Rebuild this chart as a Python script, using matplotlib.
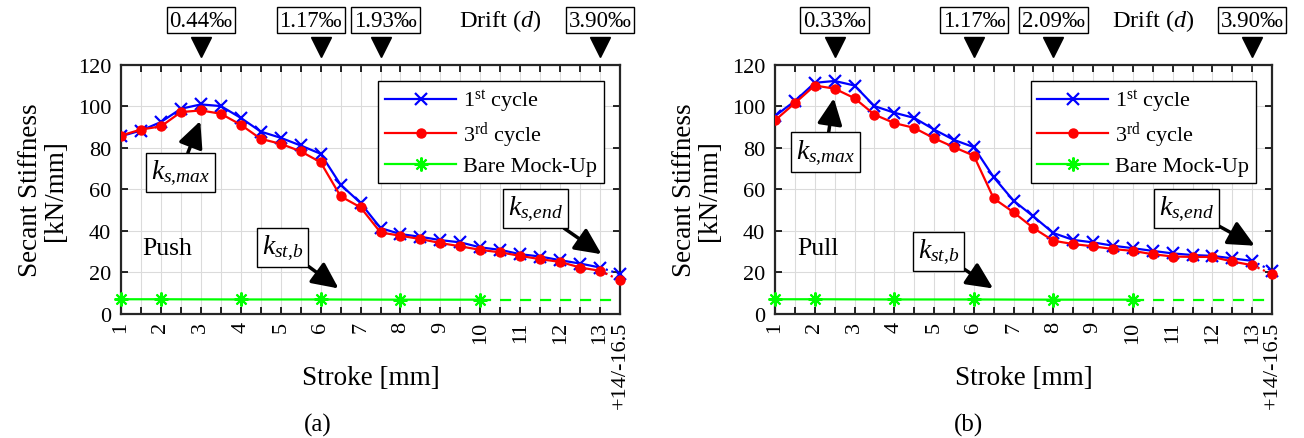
import numpy as np
import matplotlib
matplotlib.use('Agg')
import matplotlib.pyplot as plt
from matplotlib.transforms import blended_transform_factory

plt.rcParams['font.family'] = ['Liberation Serif', 'DejaVu Serif']
plt.rcParams['mathtext.fontset'] = 'custom'
plt.rcParams['mathtext.rm'] = 'Liberation Serif'
plt.rcParams['mathtext.it'] = 'Liberation Serif:italic'
plt.rcParams['mathtext.bf'] = 'Liberation Serif:bold'

# ---------------- data ----------------
stroke = [1, 1.5, 2, 2.5, 3, 3.5, 4, 4.5, 5, 5.5, 6, 6.5, 7, 7.5, 8, 8.5,
          9, 9.5, 10, 10.5, 11, 11.5, 12, 12.5, 13]
xtick_strokes = [1, 2, 3, 4, 5, 6, 7, 8, 9, 10, 11, 12, 13]
xtick_labels = ['1', '2', '3', '4', '5', '6', '7', '8', '9', '10', '11', '12', '13', '+14/-16.5']

push_1st = [85.7, 88.4, 92.5, 98.9, 101.0, 100.2, 94.5, 87.9, 84.9, 81.2, 77.2, 62.3, 53.5,
            41.4, 38.5, 37.2, 35.6, 34.5, 32.1, 30.9, 28.8, 27.7, 25.9, 24.3, 22.4]
push_3rd = [86.0, 88.9, 90.4, 97.3, 98.1, 96.5, 91.2, 84.4, 82.0, 78.4, 73.1, 56.7, 51.4,
            39.3, 37.7, 36.1, 34.2, 32.6, 30.9, 29.7, 28.0, 26.4, 25.1, 22.4, 20.8]
push_1st_last = 19.2
push_3rd_last = 16.3

pull_1st = [95.4, 102.6, 111.4, 112.3, 110.1, 100.2, 97.0, 94.5, 88.9, 83.9, 80.4, 65.9, 54.6,
            47.0, 39.0, 35.7, 34.5, 32.9, 31.7, 30.4, 29.2, 28.4, 28.0, 26.8, 25.6]
pull_3rd = [93.3, 101.6, 110.1, 108.6, 104.0, 96.1, 92.0, 89.7, 84.7, 80.4, 76.3, 55.7, 49.0,
            41.4, 35.3, 33.7, 32.6, 31.3, 30.4, 28.8, 27.7, 27.5, 27.5, 25.3, 23.5]
pull_1st_last = 20.8
pull_3rd_last = 19.2

bare_stroke = [1, 2, 4, 6, 8, 10]
bare_push = [7.1, 7.1, 7.0, 7.0, 6.9, 6.9]
bare_pull = [7.1, 7.1, 7.0, 7.0, 6.9, 6.9]
bare_push_last = 6.9
bare_pull_last = 6.9

drift_push_stroke = [3, 6, 7.5, 13]
drift_push_labels = ['0.44‰', '1.17‰', '1.93‰', '3.90‰']
drift_pull_stroke = [2.5, 6, 8, 13]
drift_pull_labels = ['0.33‰', '1.17‰', '2.09‰', '3.90‰']

# ---------------- figure ----------------
fig = plt.figure(figsize=(13.04, 4.39), dpi=100)
ax1 = fig.add_axes([0.0928, 0.2825, 0.3827, 0.5672])
ax2 = fig.add_axes([0.5943, 0.2825, 0.3812, 0.5672])

pos = np.arange(len(stroke))
last_pos = len(stroke)

def spos(s):
    return np.interp(s, stroke, pos)

BLUE = (0, 0, 1)
RED = (1, 0, 0)
GREEN = (0, 1, 0)
ASTER = (8, 2, 0)

def panel(ax, first, third, first_last, third_last, bare, bare_last,
          drift_s, drift_l, box_shift, name, name_xy, kmax, kst, kend):
    ax.plot(pos, first, color=BLUE, marker='x', ms=8, mew=1.6, lw=1.6,
            label=r'1$^{\rm st}$ cycle', zorder=4)
    ax.plot(pos, third, color=RED, marker='o', ms=6.5, lw=1.6,
            label=r'3$^{\rm rd}$ cycle', zorder=5)
    ax.plot(spos(bare_stroke), bare, color=GREEN, marker=ASTER, ms=10, mew=1.5, lw=1.6,
            label='Bare Mock-Up', zorder=4, clip_on=False)
    # extensions to last drift
    ax.plot([pos[-1], last_pos], [first[-1], first_last], color=BLUE, ls=':', lw=1.6, zorder=4)
    ax.plot([pos[-1], last_pos], [third[-1], third_last], color=RED, ls=':', lw=1.6, zorder=5)
    ax.plot([last_pos], [first_last], color=BLUE, marker='x', ms=8, mew=1.6, clip_on=False, zorder=6)
    ax.plot([last_pos], [third_last], color=RED, marker='o', ms=6.5, clip_on=False, zorder=6)
    ax.plot([spos(bare_stroke)[-1], last_pos], [bare[-1], bare_last], color=GREEN,
            ls=(0, (5, 4)), lw=1.6, zorder=4)

    ax.set_xlim(0, last_pos)
    ax.set_ylim(0, 120)
    ax.set_yticks(np.arange(0, 121, 20))
    ax.set_xticks(list(spos(xtick_strokes)) + [last_pos])
    ax.set_xticklabels(xtick_labels, rotation=90, fontsize=16)
    ax.set_xticks(list(pos) + [last_pos], minor=True)
    ax.tick_params(axis='both', which='both', direction='in', top=True, right=True,
                   length=5, width=1.2)
    ax.tick_params(axis='y', labelsize=16, pad=7)
    ax.tick_params(axis='x', pad=5)
    ax.grid(True, which='major', color=(0.86, 0.86, 0.86), lw=0.8)
    ax.grid(True, which='minor', axis='x', color=(0.86, 0.86, 0.86), lw=0.8)
    ax.set_axisbelow(True)
    for sp in ax.spines.values():
        sp.set_linewidth(1.6)
        sp.set_color((0.15, 0.15, 0.15))

    ax.set_ylabel('Secant Stiffness\n[kN/mm]', fontsize=19.5, linespacing=1.0)
    ax.yaxis.set_label_coords(-0.106, 0.5)
    ax.set_xlabel('Stroke [mm]', fontsize=19.5)
    ax.xaxis.set_label_coords(0.5, -0.205)

    leg = ax.legend(loc='upper right', bbox_to_anchor=(0.967, 0.935), fontsize=16,
                    fancybox=False, edgecolor='black', framealpha=1, handlelength=3.2,
                    borderpad=0.3, labelspacing=0.25, handletextpad=0.3, borderaxespad=0)
    leg.get_frame().set_linewidth(1.0)

    ax.text(name_xy[0], name_xy[1], name, fontsize=18.5, ha='center', va='center')

    box = dict(boxstyle='square,pad=0.18', fc='white', ec='black', lw=1.0)
    arr = dict(arrowstyle='-|>,head_length=0.8,head_width=0.38', color='black', lw=2.5,
               shrinkA=0, shrinkB=0)
    for lab, (tip, txt) in zip([r'$k_{s{,}max}$', r'$k_{st{,}b}$', r'$k_{s{,}end}$'],
                               [kmax, kst, kend]):
        ax.annotate(lab, xy=tip, xytext=txt, fontsize=20, ha='center', va='center',
                    bbox=box, arrowprops=arr, zorder=10)

    tr = blended_transform_factory(ax.transData, ax.transAxes)
    for s, l, dx in zip(drift_s, drift_l, box_shift):
        ax.text(spos(s) + dx, 1.18, l, transform=tr, fontsize=16.5, ha='center', va='center',
                bbox=dict(boxstyle='square,pad=0.12', fc='white', ec='black', lw=1.0),
                clip_on=False)
        ax.plot([spos(s)], [1.072], marker='v', ms=14, color='black', transform=tr,
                clip_on=False)
    ax.text(19.0, 1.18, r'Drift ($d$)', transform=tr, fontsize=17.5, ha='center', va='center')


panel(ax1, push_1st, push_3rd, push_1st_last, push_3rd_last, bare_push, bare_push_last,
      drift_push_stroke, drift_push_labels, [0, -0.5, 0.25, 0], 'Push', (2.3, 32),
      kmax=((3.97, 93.0), (2.96, 68.0)),
      kst=((10.9, 12.3), (8.09, 32.1)),
      kend=((24.07, 28.8), (20.75, 51.0)))

panel(ax2, pull_1st, pull_3rd, pull_1st_last, pull_3rd_last, bare_pull, bare_pull_last,
      drift_pull_stroke, drift_pull_labels, [0, 0, 0, 0], 'Pull', (2.15, 32),
      kmax=((2.96, 104.0), (2.55, 78.1)),
      kst=((10.97, 12.3), (8.21, 30.0)),
      kend=((24.13, 32.9), (20.68, 51.0)))

fig.text(318 / 1304, 1 - 425 / 439, '(a)', fontsize=18, ha='center', va='center')
fig.text(968 / 1304, 1 - 425 / 439, '(b)', fontsize=18, ha='center', va='center')

fig.savefig('out.png', dpi=100)
